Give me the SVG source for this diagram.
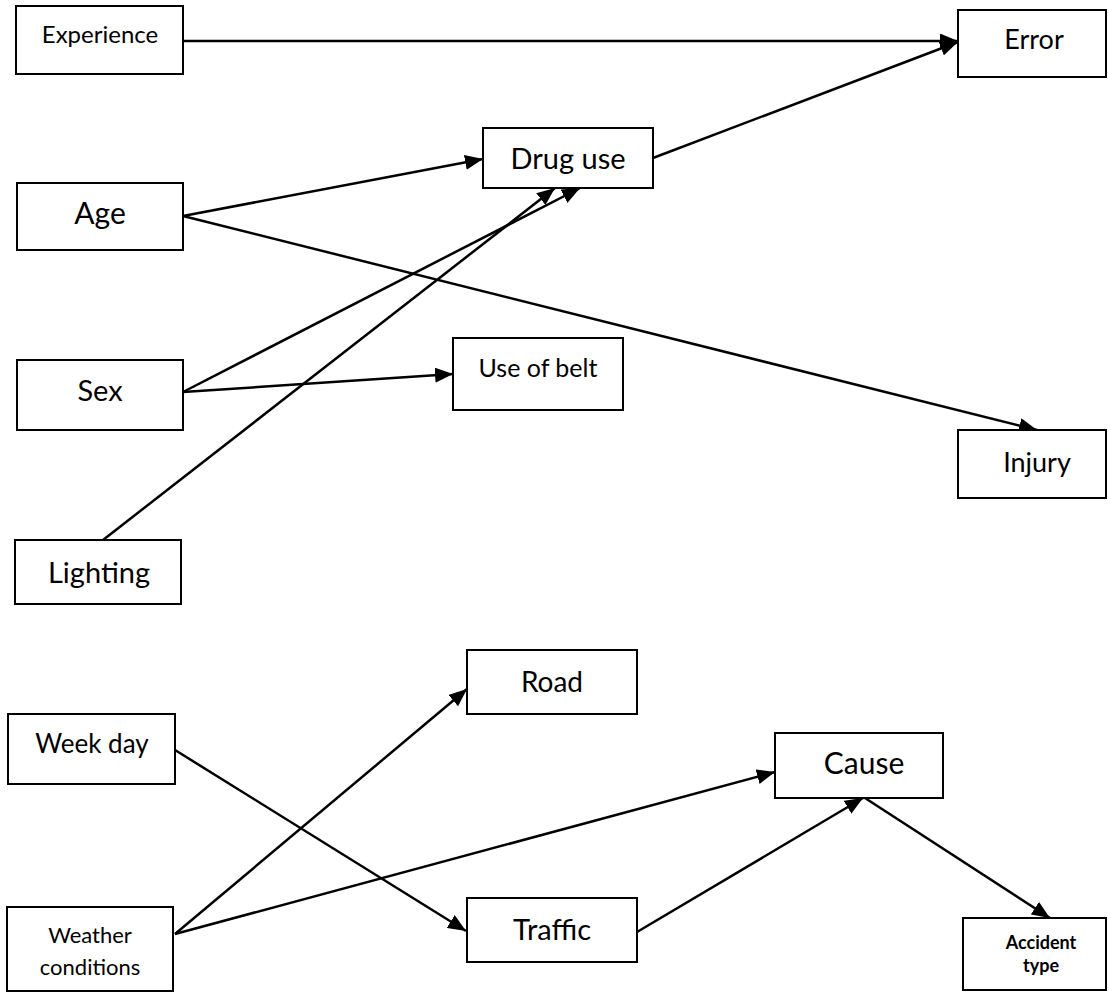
<svg xmlns="http://www.w3.org/2000/svg" width="1108" height="992" viewBox="0 0 1108 992">
<defs>
<marker id="arr" markerUnits="userSpaceOnUse" markerWidth="19" markerHeight="15" refX="18" refY="7.5" orient="auto">
<path d="M0,0 L18,7.5 L0,15 z" fill="#000"/>
</marker>
<style>
rect{fill:#fff;stroke:#000;stroke-width:2}
text{font-family:Lato,"Open Sans","Liberation Sans",sans-serif;fill:#000;text-anchor:middle}
.c line{stroke:#000;stroke-width:2.5;marker-end:url(#arr)}
</style>
</defs>
<rect x="0" y="0" width="1108" height="992" style="fill:#fff;stroke:none"/>
<g class="c" id="connectors">
<line x1="183" y1="41" x2="958" y2="41"/>
<line x1="653" y1="158" x2="958" y2="42"/>
<line x1="183" y1="216" x2="483" y2="159"/>
<line x1="183" y1="216" x2="1037" y2="430"/>
<line x1="183" y1="392" x2="580" y2="188"/>
<line x1="183" y1="392" x2="453" y2="374"/>
<line x1="103" y1="540" x2="555" y2="188"/>
<line x1="175" y1="750" x2="466" y2="931"/>
<line x1="175" y1="934" x2="467" y2="689"/>
<line x1="175" y1="934" x2="775" y2="772"/>
<line x1="637" y1="932" x2="863" y2="798"/>
<line x1="865" y1="798" x2="1050" y2="918"/>
</g>
<g id="experience"><rect x="16" y="6" width="167" height="68"/><text x="100" y="43" font-size="24">Experience</text></g>
<g id="error"><rect x="958" y="10" width="148" height="67"/><text x="1034" y="49" font-size="27">Error</text></g>
<g id="drug-use"><rect x="483" y="128" width="170" height="60"/><text x="568" y="169" font-size="29">Drug use</text></g>
<g id="age"><rect x="17" y="183" width="166" height="67"/><text x="100" y="224" font-size="30">Age</text></g>
<g id="sex"><rect x="17" y="360" width="166" height="70"/><text x="100" y="401" font-size="29">Sex</text></g>
<g id="use-of-belt"><rect x="453" y="338" width="170" height="72"/><text x="538" y="377" font-size="25">Use of belt</text></g>
<g id="injury"><rect x="958" y="430" width="148" height="68"/><text x="1037" y="472" font-size="27">Injury</text></g>
<g id="lighting"><rect x="15" y="540" width="166" height="64"/><text x="99" y="583" font-size="29">Lighting</text></g>
<g id="road"><rect x="467" y="650" width="170" height="64"/><text x="552" y="692" font-size="28">Road</text></g>
<g id="week-day"><rect x="8" y="714" width="167" height="70"/><text x="92" y="753" font-size="26">Week day</text></g>
<g id="cause"><rect x="775" y="733" width="168" height="65"/><text x="864" y="774" font-size="30">Cause</text></g>
<g id="weather-conditions"><rect x="7" y="907" width="166" height="84"/><text x="90" y="943" font-size="22">Weather</text><text x="90" y="975" font-size="22">conditions</text></g>
<g id="traffic"><rect x="467" y="898" width="170" height="64"/><text x="552" y="940" font-size="29">Traffic</text></g>
<g id="accident-type"><rect x="963" y="918" width="143" height="72"/><text x="1041" y="949" font-size="18" font-weight="bold">Accident</text><text x="1041" y="972" font-size="18" font-weight="bold">type</text></g>
</svg>
